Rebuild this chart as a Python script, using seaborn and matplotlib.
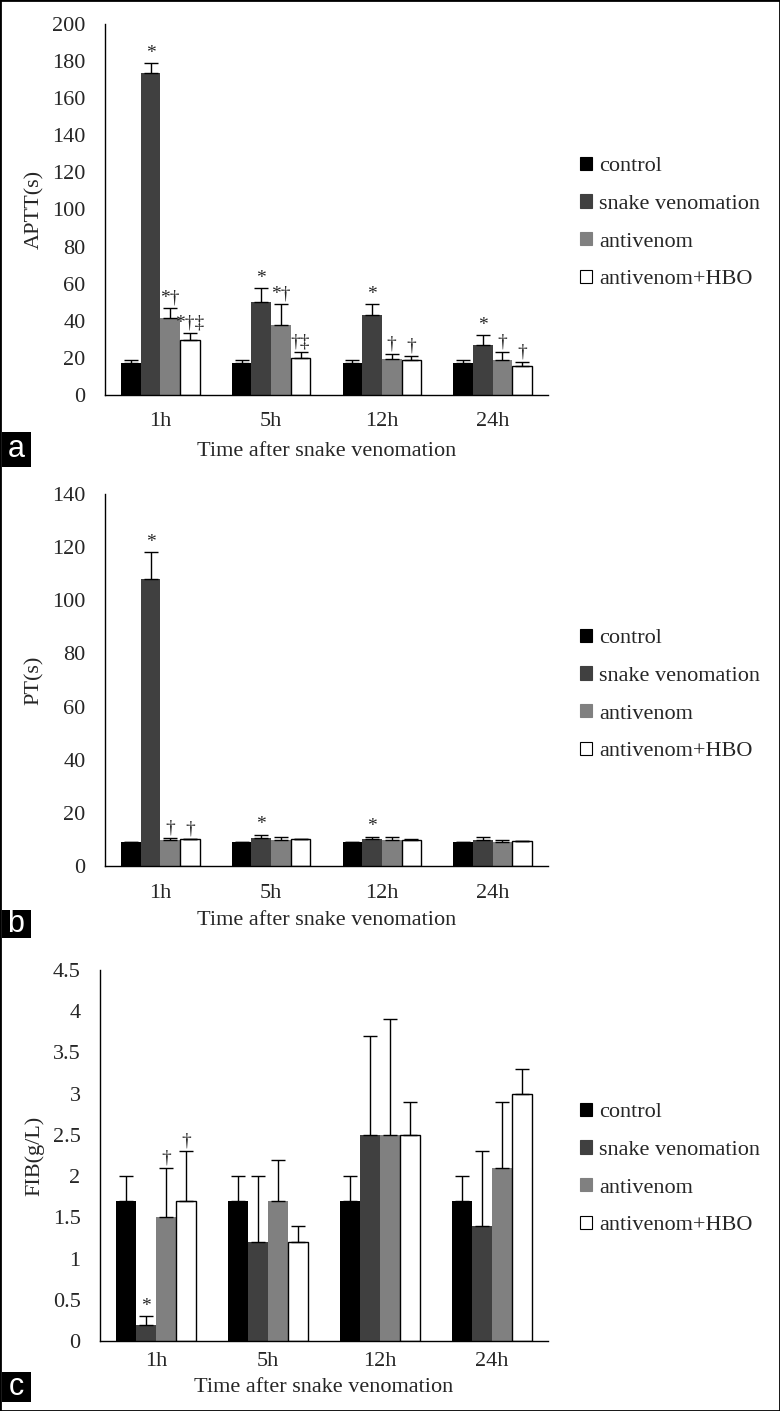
import matplotlib
matplotlib.use('Agg')
import matplotlib.pyplot as plt
import seaborn as sns
import pandas as pd
import numpy as np
from matplotlib.patches import Patch, Rectangle

times = ['1h', '5h', '12h', '24h']
groups = ['control', 'snake venomation', 'antivenom', 'antivenom+HBO']
colors = ['#000000', '#404040', '#808080', '#ffffff']

# rows = groups, columns = times
aptt_mean = [[17.4, 17.4, 17.4, 17.4],
             [173.4, 50.0, 42.9, 26.9],
             [41.6, 38.0, 19.6, 18.7],
             [29.8, 20.1, 19.0, 15.8]]
aptt_sd = [[1.6, 1.6, 1.6, 1.6],
           [5.4, 7.6, 6.2, 5.4],
           [5.2, 11.3, 2.6, 4.3],
           [3.7, 3.2, 2.2, 2.1]]
aptt_marks = [['', '', '', ''],
              ['*', '*', '*', '*'],
              ['*†', '*†', '†', '†'],
              ['*†‡', '†‡', '†', '†']]

pt_mean = [[9.0, 9.0, 9.0, 9.0],
           [108.1, 10.5, 10.0, 9.7],
           [9.7, 9.7, 9.7, 9.0],
           [10.0, 10.0, 9.7, 9.3]]
pt_sd = [[0.2, 0.2, 0.2, 0.2],
         [9.9, 1.3, 1.0, 1.3],
         [0.8, 1.1, 1.1, 0.7],
         [0.3, 0.3, 0.6, 0.2]]
pt_marks = [['', '', '', ''],
            ['*', '*', '*', ''],
            ['†', '', '', ''],
            ['†', '', '', '']]

fib_mean = [[1.7, 1.7, 1.7, 1.7],
            [0.2, 1.2, 2.5, 1.4],
            [1.5, 1.7, 2.5, 2.1],
            [1.7, 1.2, 2.5, 3.0]]
fib_sd = [[0.3, 0.3, 0.3, 0.3],
          [0.1, 0.8, 1.2, 0.9],
          [0.6, 0.5, 1.4, 0.8],
          [0.6, 0.2, 0.4, 0.3]]
fib_marks = [['', '', '', ''],
             ['*', '', '', ''],
             ['†', '', '', ''],
             ['†', '', '', '']]

sns.set_style('white')
plt.rcParams['font.family'] = ['Liberation Serif', 'DejaVu Serif']

W, H = 780, 1411
fig = plt.figure(figsize=(W / 100, H / 100), dpi=100)


def fx(px):
    return px / W


def fy(px):
    return 1 - px / H


panels = [
    dict(mean=aptt_mean, sd=aptt_sd, marks=aptt_marks, ylabel='APTT(s)',
         ylim=200, yticks=np.arange(0, 201, 20), ticklabels=None,
         box=(105, 548, 24, 395), pad=12, lpad=8, leg=223, letter='a', lbox=(432, 467)),
    dict(mean=pt_mean, sd=pt_sd, marks=pt_marks, ylabel='PT(s)',
         ylim=140, yticks=np.arange(0, 141, 20), ticklabels=None,
         box=(105, 548, 494, 866), pad=13, lpad=6, leg=695, letter='b', lbox=(910, 938)),
    dict(mean=fib_mean, sd=fib_sd, marks=fib_marks, ylabel='FIB(g/L)',
         ylim=4.5, yticks=np.arange(0, 4.51, 0.5),
         ticklabels=['0', '0.5', '1', '1.5', '2', '2.5', '3', '3.5', '4', '4.5'],
         box=(100, 548, 970, 1341), pad=8, lpad=5, leg=1169, letter='c', lbox=(1372, 1402)),
]

for p in panels:
    l, r, t, b = p['box']
    ax = fig.add_axes([fx(l), fy(b), fx(r) - fx(l), fy(t) - fy(b)])
    rows = []
    for gi, g in enumerate(groups):
        for ti, tm in enumerate(times):
            rows.append({'time': tm, 'group': g, 'value': p['mean'][gi][ti]})
    df = pd.DataFrame(rows)
    sns.barplot(data=df, x='time', y='value', hue='group', order=times,
                hue_order=groups, palette=colors, width=0.71, errorbar=None,
                legend=False, ax=ax, saturation=1, linewidth=0)
    bar_sets = list(ax.containers)[:4]
    for gi, cont in enumerate(bar_sets):
        xs = []
        for ti, bar in enumerate(cont):
            if gi == 3:
                bar.set_edgecolor('black')
                bar.set_linewidth(1.0)
            x = bar.get_x() + bar.get_width() / 2
            xs.append(x)
            top = p['mean'][gi][ti] + p['sd'][gi][ti]
            m = p['marks'][gi][ti]
            if m:
                ax.annotate(m, (x, top), xytext=(0, 1), textcoords='offset points',
                            ha='center', va='bottom', fontsize=14)
        ax.errorbar(xs, p['mean'][gi], yerr=[np.zeros(4), p['sd'][gi]], fmt='none',
                    ecolor='black', elinewidth=1, capsize=5, capthick=1, zorder=1)
    ax.set_xlim(-0.5, 3.5)
    ax.set_ylim(0, p['ylim'])
    ax.set_yticks(p['yticks'])
    if p['ticklabels']:
        ax.set_yticklabels(p['ticklabels'])
    ax.set_xticks(range(4))
    ax.set_xticklabels(times)
    ax.set_xticks([-0.5, 0.5, 1.5, 2.5, 3.5], minor=True)
    ax.tick_params(axis='x', which='major', length=0, pad=p['pad'], labelsize=16)
    ax.tick_params(axis='x', which='minor', length=5, width=1, direction='out', color='black')
    ax.tick_params(axis='y', length=5, width=1, direction='out', color='black', labelsize=16, pad=9)
    ax.set_ylabel(p['ylabel'], fontsize=16, labelpad=6)
    ax.set_xlabel('Time after snake venomation', fontsize=16, labelpad=p['lpad'])
    sns.despine(ax=ax)
    for s in ['left', 'bottom']:
        ax.spines[s].set_color('black')
        ax.spines[s].set_linewidth(1)

    handles = [Patch(facecolor=c, edgecolor='black' if c == '#ffffff' else c, linewidth=0.8)
               for c in colors]
    fig.legend(handles, groups, loc='center left', bbox_to_anchor=(fx(569), fy(p['leg'])),
               frameon=False, fontsize=16, handlelength=0.55, handleheight=0.55,
               handletextpad=0.3, labelspacing=0.81, borderpad=0)

    # panel letter
    y0, y1 = p['lbox']
    fig.patches.append(Rectangle((fx(2), fy(y1)), fx(29), (y1 - y0) / H,
                                 transform=fig.transFigure, facecolor='black',
                                 edgecolor='none'))
    fig.text(fx(16), fy((y0 + y1) / 2), p['letter'], color='white', fontsize=22,
             family='Liberation Sans', ha='center', va='center')

fig.patches.append(Rectangle((0, 0), 1, 1, transform=fig.transFigure, fill=False,
                             edgecolor='black', linewidth=2))

fig.savefig('out.png', dpi=100)
